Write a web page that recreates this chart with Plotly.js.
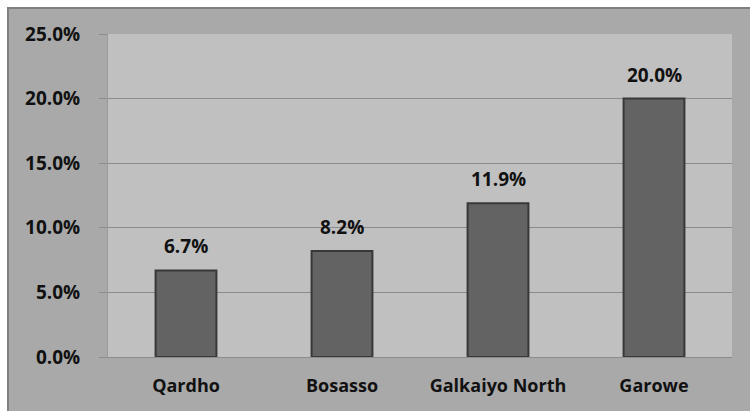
<!DOCTYPE html>
<html>
<head>
<meta charset="utf-8">
<script src="https://cdn.plot.ly/plotly-3.0.1.min.js"></script>
<style>
  html, body { margin: 0; padding: 0; background: #ffffff; overflow: hidden; }
  #frame { position: absolute; left: 7px; top: 7px; width: 760px; height: 420px;
           background: #a9a9a9; border: 2px solid #808080; }
  #chart { position: absolute; left: 0; top: 0; width: 750px; height: 411px; }
</style>
</head>
<body>
<div id="frame"></div>
<div id="chart"></div>
<script>
const categories = ["Qardho", "Bosasso", "Galkaiyo North", "Garowe"];
const values = [6.7, 8.2, 11.9, 20.0];
const tickValues = [0, 5, 10, 15, 20, 25];
const tickLabels = ["0.0%", "5.0%", "10.0%", "15.0%", "20.0%", "25.0%"];

const fontFamily = "'Open Sans', 'DejaVu Sans', sans-serif";

const trace = {
  type: "bar",
  x: categories,
  y: values,
  marker: { color: "#636363", line: { color: "#383838", width: 2 } },
  hoverinfo: "skip"
};

const annotations = categories.map((c, i) => ({
  x: c, y: values[i], xref: "x", yref: "y",
  text: values[i].toFixed(1) + "%",
  showarrow: false, yanchor: "bottom", yshift: 9,
  font: { family: fontFamily, size: 19, color: "#111111", weight: "bold" }
}));

const layout = {
  width: 750, height: 411,
  margin: { l: 108, r: 18, t: 34, b: 54 },
  paper_bgcolor: "rgba(0,0,0,0)",
  plot_bgcolor: "#c0c0c0",
  bargap: 0.61,
  showlegend: false,
  xaxis: {
    type: "category",
    ticks: "outside", ticklen: 12, tickcolor: "rgba(0,0,0,0)",
    showline: true, linecolor: "#8c8c8c", linewidth: 1,
    tickfont: { family: fontFamily, size: 18, color: "#111111", weight: "bold" },
    fixedrange: true
  },
  yaxis: {
    range: [0, 25],
    tickvals: tickValues, ticktext: tickLabels,
    ticks: "outside", ticklen: 8, tickcolor: "#8c8c8c",
    ticklabelstandoff: 15,
    showgrid: true, gridcolor: "#8c8c8c", gridwidth: 1,
    showline: true, linecolor: "#9a9a9a", linewidth: 1,
    zeroline: false,
    tickfont: { family: fontFamily, size: 19, color: "#111111", weight: "bold" },
    fixedrange: true
  },
  annotations: annotations
};

Plotly.newPlot("chart", [trace], layout, { displayModeBar: false, staticPlot: true });
</script>
</body>
</html>
